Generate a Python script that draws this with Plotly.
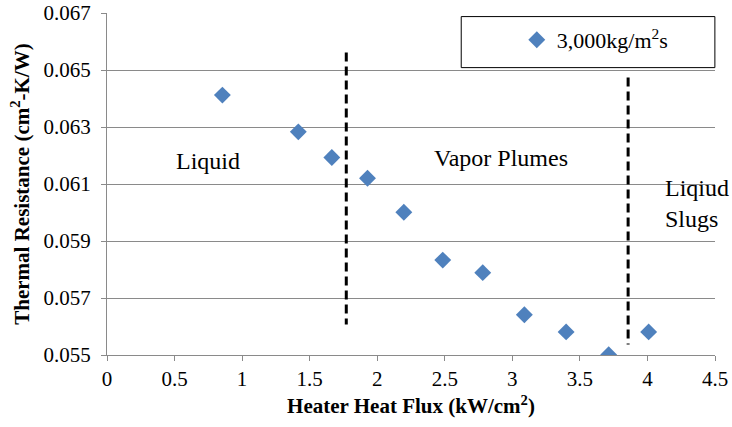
import plotly.graph_objects as go

# Data
heat_flux = [0.854, 1.416, 1.664, 1.928, 2.197, 2.485, 2.781, 3.089, 3.398, 3.713, 4.009]
resistance = [0.06412, 0.06283, 0.06193, 0.06120, 0.06001, 0.05833, 0.05789, 0.05641, 0.05581, 0.05501, 0.05581]
series_name = "3,000kg/m<sup>2</sup>s"

boundary1_x = [1.771, 1.771]
boundary1_y = [0.06561, 0.05607]
boundary2_x = [3.857, 3.857]
boundary2_y = [0.06474, 0.05537]

region_labels = ["Liquid", "Vapor Plumes", "Liqiud<br>Slugs"]
region_x = [0.745, 2.919, 4.369]
region_y = [0.06179, 0.06193, 0.06032]

x_ticks = [0, 0.5, 1, 1.5, 2, 2.5, 3, 3.5, 4, 4.5]
x_tick_labels = ["0", "0.5", "1", "1.5", "2", "2.5", "3", "3.5", "4", "4.5"]
y_ticks = [0.055, 0.057, 0.059, 0.061, 0.063, 0.065, 0.067]
y_tick_labels = ["0.055", "0.057", "0.059", "0.061", "0.063", "0.065", "0.067"]

FONT = "Liberation Serif"
GRID = "#8a8a8a"

fig = go.Figure()

for bx, by in [(boundary1_x, boundary1_y), (boundary2_x, boundary2_y)]:
    fig.add_trace(go.Scatter(x=bx, y=by, mode="lines", showlegend=False,
                             line=dict(color="black", width=3, dash="9px,5px"),
                             hoverinfo="skip"))

fig.add_trace(go.Scatter(x=heat_flux, y=resistance, mode="markers", name=series_name,
                         marker=dict(symbol="diamond", size=13, color="#4F81BD",
                                     line=dict(width=0))))

for t, x, y in zip(region_labels, region_x, region_y):
    fig.add_annotation(x=x, y=y, text=t, showarrow=False, xref="x", yref="y",
                       font=dict(family=FONT, size=24, color="black"), align="left")

# legend box
fig.add_shape(type="rect", xref="paper", yref="paper",
              x0=0.5826, x1=0.9998, y0=0.8403, y1=0.9895,
              line=dict(color="black", width=1), fillcolor="white", layer="above")

fig.update_layout(
    width=732, height=427,
    margin=dict(l=107, r=17, t=13, b=72, autoexpand=False),
    paper_bgcolor="white", plot_bgcolor="white",
    font=dict(family=FONT, color="black"),
    showlegend=True,
    legend=dict(x=0.674, y=0.921, xanchor="left", yanchor="middle",
                bgcolor="rgba(0,0,0,0)", borderwidth=0,
                font=dict(family=FONT, size=22, color="black")),
    xaxis=dict(range=[0, 4.5], tickvals=x_ticks, ticktext=x_tick_labels,
               showgrid=False, zeroline=False, showline=True, linecolor=GRID, linewidth=1,
               ticks="outside", ticklen=5, tickcolor=GRID, automargin=False,
               ticklabeloverflow="allow",
               tickfont=dict(family=FONT, size=21, color="black"),
               title=dict(text="<b>Heater Heat Flux (kW/cm<sup>2</sup>)</b>",
                          font=dict(family=FONT, size=21, color="black"), standoff=8)),
    yaxis=dict(range=[0.055, 0.067], tickvals=y_ticks, ticktext=y_tick_labels,
               showgrid=True, gridcolor=GRID, gridwidth=1, zeroline=False,
               showline=True, linecolor=GRID, linewidth=1, automargin=False,
               ticks="outside", ticklen=5, tickcolor=GRID, ticklabelstandoff=6,
               ticklabeloverflow="allow",
               tickfont=dict(family=FONT, size=21, color="black"),
               title=dict(text="<b>Thermal Resistance (cm<sup>2</sup>-K/W)</b>",
                          font=dict(family=FONT, size=21, color="black"), standoff=8)),
)

# remove the default 8px page margin so the figure fills the 732x427 window exactly
fig.write_html("out.html", config={"displayModeBar": False},
               post_script="document.body.style.margin='0';")
